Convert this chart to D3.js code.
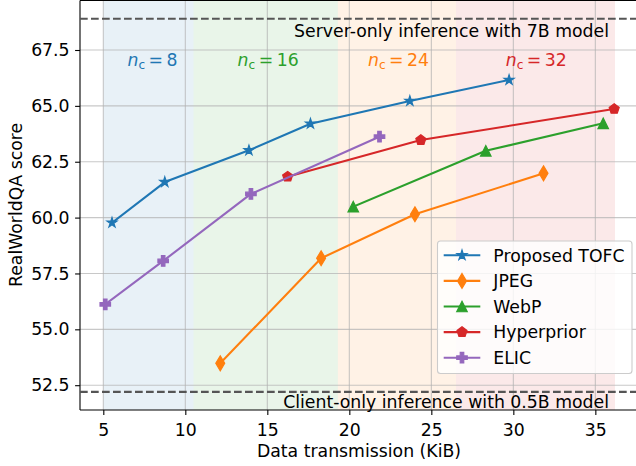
<!DOCTYPE html>
<meta charset="utf-8">
<script src="https://d3js.org/d3.v7.min.js"></script>
<style>
body { margin: 0; background: #fff; }
text { font-family: "DejaVu Sans", sans-serif; font-size: 17.3px; fill: #000; }
</style>
<div id="chart"></div>
<script>
// data
const seriesNames = ["Proposed TOFC", "JPEG", "WebP", "Hyperprior", "ELIC"];
const colors = ["#1f77b4", "#ff7f0e", "#2ca02c", "#d62728", "#9467bd"];
const markers = ["star", "thin_diamond", "triangle", "pentagon", "plus"];

const tofcX = [5.53, 8.75, 13.88, 17.63, 23.69, 29.74];
const tofcY = [59.77, 61.59, 63.01, 64.20, 65.22, 66.16];
const jpegX = [12.13, 18.28, 24.00, 31.84];
const jpegY = [53.48, 58.18, 60.15, 61.98];
const webpX = [20.24, 28.32, 35.48];
const webpY = [60.49, 62.99, 64.22];
const hypX = [16.24, 24.36, 36.15];
const hypY = [61.83, 63.47, 64.86];
const elicX = [5.12, 8.65, 14.00, 21.84];
const elicY = [56.12, 58.06, 61.06, 63.62];

const regionStarts = [5.0, 10.5, 19.3, 26.5];
const regionEnds = [10.5, 19.3, 26.5, 36.2];
const regionLabels = ["8", "16", "24", "32"];
const regionLabelX = [8.0, 15.05, 23.0, 31.4];

const serverScore = 68.9;
const clientScore = 52.2;

const xTicks = [5, 10, 15, 20, 25, 30, 35];
const yTicks = [52.5, 55.0, 57.5, 60.0, 62.5, 65.0, 67.5];

const W = 636, H = 466;
const mLeft = 80, mRight = 637, mTop = 0.5, mBottom = 410;
const FS = 17.3;

const svg = d3.select("#chart").append("svg")
  .attr("width", W).attr("height", H);

const x = d3.scaleLinear().domain([3.579, 37.54]).range([mLeft, mRight]);
const y = d3.scaleLinear().domain([51.39, 69.715]).range([mBottom, mTop]);

// shaded n_c regions
svg.selectAll("rect.region")
  .data(regionStarts)
  .join("rect")
    .attr("x", (d, i) => x(d))
    .attr("y", mTop)
    .attr("width", (d, i) => x(regionEnds[i]) - x(d))
    .attr("height", mBottom - mTop)
    .attr("fill", (d, i) => colors[[0, 2, 1, 3][i]])
    .attr("fill-opacity", 0.1);

// grid
const grid = svg.append("g").attr("stroke", "#b0b0b0").attr("stroke-opacity", 0.7).attr("stroke-width", 1.1);
grid.selectAll("line.gx").data(xTicks).join("line")
  .attr("x1", d => x(d)).attr("x2", d => x(d)).attr("y1", mTop).attr("y2", mBottom);
grid.selectAll("line.gy").data(yTicks).join("line")
  .attr("x1", mLeft).attr("x2", mRight).attr("y1", d => y(d)).attr("y2", d => y(d));

// axes
const xAxis = svg.append("g")
  .attr("transform", `translate(0,${mBottom})`)
  .call(d3.axisBottom(x).tickValues(xTicks).tickSizeOuter(0).tickSize(4.9).tickPadding(5));
const yAxis = svg.append("g")
  .attr("transform", `translate(${mLeft},0)`)
  .call(d3.axisLeft(y).tickValues(yTicks).tickFormat(d3.format(".1f")).tickSizeOuter(0).tickSize(4.9).tickPadding(5.5));
[xAxis, yAxis].forEach(a => {
  a.select(".domain").remove();
  a.selectAll("line").attr("stroke", "#000").attr("stroke-width", 1.1);
  a.selectAll("text").style("font-size", FS + "px").attr("font-family", "DejaVu Sans");
});
xAxis.selectAll("text").attr("dy", "0.93em");

// spines
svg.append("line").attr("x1", mLeft).attr("x2", mLeft).attr("y1", mTop).attr("y2", mBottom)
  .attr("stroke", "#000").attr("stroke-width", 1.1);
svg.append("line").attr("x1", mLeft).attr("x2", mRight).attr("y1", mBottom).attr("y2", mBottom)
  .attr("stroke", "#000").attr("stroke-width", 1.1);
svg.append("line").attr("x1", mLeft).attr("x2", mRight).attr("y1", mTop).attr("y2", mTop)
  .attr("stroke", "#000").attr("stroke-width", 1.1);

// axis labels
svg.append("text").attr("x", 359).attr("y", 457).attr("text-anchor", "middle")
  .text("Data transmission (KiB)");
svg.append("text").attr("transform", "translate(22,205) rotate(-90)").attr("text-anchor", "middle")
  .text("RealWorldQA score");

// reference lines
[serverScore, clientScore].forEach(v => {
  svg.append("line").attr("x1", mLeft).attr("x2", mRight).attr("y1", y(v)).attr("y2", y(v))
    .attr("stroke", "#555").attr("stroke-width", 2.1).attr("stroke-dasharray", "7.7,3.3");
});
svg.append("text").attr("x", 609).attr("y", y(serverScore) + 18.5).attr("text-anchor", "end")
  .text("Server-only inference with 7B model");
svg.append("text").attr("x", 609).attr("y", y(clientScore) + 16).attr("text-anchor", "end")
  .text("Client-only inference with 0.5B model");

// n_c labels
regionLabels.forEach((lab, i) => {
  const t = svg.append("text").attr("x", x(regionLabelX[i])).attr("y", 65.5)
    .attr("text-anchor", "middle").style("fill", colors[[0, 2, 1, 3][i]]);
  t.append("tspan").attr("font-style", "italic").text("n");
  t.append("tspan").attr("dy", 3.8).style("font-size", "12.2px").text("c");
  t.append("tspan").attr("dy", -3.8).text("\u2009=\u2009" + lab);
});

// marker shapes (matplotlib-like, s = marker size in px)
function markerPath(type, s) {
  const p = d3.path();
  if (type === "star") {
    const R = s / 2, r = R * 0.381966;
    for (let k = 0; k < 10; k++) {
      const a = -Math.PI / 2 + k * Math.PI / 5, rr = k % 2 ? r : R;
      k ? p.lineTo(rr * Math.cos(a), rr * Math.sin(a)) : p.moveTo(rr * Math.cos(a), rr * Math.sin(a));
    }
  } else if (type === "thin_diamond") {
    const h = s * 0.7071, w = h * 0.6;
    p.moveTo(0, -h); p.lineTo(w, 0); p.lineTo(0, h); p.lineTo(-w, 0);
  } else if (type === "triangle") {
    const h = s / 2;
    p.moveTo(0, -h); p.lineTo(h, h); p.lineTo(-h, h);
  } else if (type === "pentagon") {
    const R = s / 2;
    for (let k = 0; k < 5; k++) {
      const a = -Math.PI / 2 + k * 2 * Math.PI / 5;
      k ? p.lineTo(R * Math.cos(a), R * Math.sin(a)) : p.moveTo(R * Math.cos(a), R * Math.sin(a));
    }
  } else if (type === "plus") {
    const a = s / 2, b = s / 6;
    const pts = [[-b,-a],[b,-a],[b,-b],[a,-b],[a,b],[b,b],[b,a],[-b,a],[-b,b],[-a,b],[-a,-b],[-b,-b]];
    pts.forEach((q, k) => k ? p.lineTo(q[0], q[1]) : p.moveTo(q[0], q[1]));
  }
  p.closePath();
  return p.toString();
}

const series = [
  [tofcX, tofcY], [jpegX, jpegY], [webpX, webpY], [hypX, hypY], [elicX, elicY]
];
const MS = 10.5;
const line = d3.line().x(d => x(d[0])).y(d => y(d[1]));

series.forEach((s, i) => {
  const pts = s[0].map((v, k) => [v, s[1][k]]);
  svg.append("path").attr("d", line(pts)).attr("fill", "none")
    .attr("stroke", colors[i]).attr("stroke-width", 2.1).attr("stroke-linejoin", "round").attr("stroke-linecap", "square");
  svg.selectAll(null).data(pts).join("path")
    .attr("transform", d => `translate(${x(d[0])},${y(d[1])})`)
    .attr("d", markerPath(markers[i], MS))
    .attr("fill", colors[i]).attr("stroke", colors[i]).attr("stroke-width", 1.2).attr("stroke-linejoin", "miter");
});

// legend
const lg = svg.append("g");
lg.append("rect").attr("x", 437.5).attr("y", 241).attr("width", 194.5).attr("height", 132.5)
  .attr("rx", 3).attr("fill", "#fff").attr("fill-opacity", 0.8).attr("stroke", "#cccccc").attr("stroke-width", 1.1);
seriesNames.forEach((name, i) => {
  const cy = 255.3 + i * 25.6;
  lg.append("line").attr("x1", 443.7).attr("x2", 480.3).attr("y1", cy).attr("y2", cy)
    .attr("stroke", colors[i]).attr("stroke-width", 2.1);
  lg.append("path").attr("transform", `translate(462,${cy})`).attr("d", markerPath(markers[i], MS))
    .attr("fill", colors[i]).attr("stroke", colors[i]).attr("stroke-width", 1.2);
  lg.append("text").attr("x", 493.3).attr("y", cy).attr("dy", "0.36em").text(name);
});
</script>
